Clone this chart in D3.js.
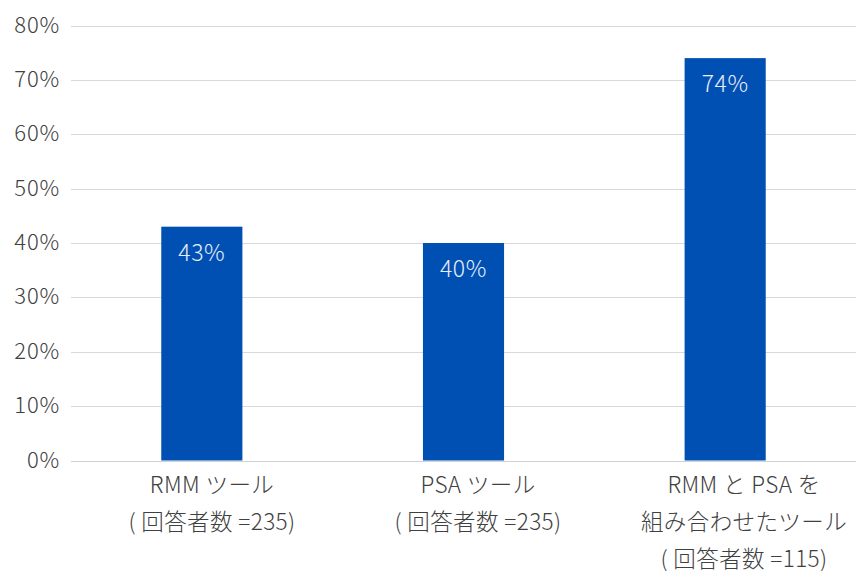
<!DOCTYPE html>
<html lang="ja">
<head>
<meta charset="utf-8">
<script src="https://cdn.jsdelivr.net/npm/d3@7"></script>
<style>
  html, body { margin: 0; padding: 0; background: #fff; }
  svg { display: block; }
  text { font-family: "Noto Sans CJK JP", "Noto Sans", sans-serif; font-weight: 300; }
</style>
</head>
<body>
<svg id="chart" width="856" height="571"></svg>
<script>
// Category labels (each entry is a list of lines)
const categories = [
  ["RMM ツール", "( 回答者数 =235)"],
  ["PSA ツール", "( 回答者数 =235)"],
  ["RMM と PSA を", "組み合わせたツール", "( 回答者数 =115)"]
];
// Share of respondents (%)
const values = [43, 40, 74];
// Y axis ticks (%)
const yTicks = [0, 10, 20, 30, 40, 50, 60, 70, 80];

const svg = d3.select("#chart");
const margin = { left: 71, right: 0, top: 25.5, bottom: 110.5 };
const W = 856, H = 571;

const x = d3.scaleBand()
  .domain(categories.map((d, i) => i))
  .range([margin.left, W - margin.right])
  .paddingInner(0.69)
  .paddingOuter(0.345);

// Category text slots sit slightly to the right of the bar slots
const xLabel = d3.scaleBand()
  .domain(categories.map((d, i) => i))
  .range([79, 877]);

const y = d3.scaleLinear()
  .domain([0, 80])
  .range([H - margin.bottom, margin.top]);

// Horizontal gridlines
svg.append("g")
  .selectAll("line")
  .data(yTicks)
  .join("line")
  .attr("x1", margin.left)
  .attr("x2", W - margin.right)
  .attr("y1", d => Math.round(y(d)) + 0.5)
  .attr("y2", d => Math.round(y(d)) + 0.5)
  .attr("stroke", d => d === 0 ? "#cfd0d8" : "#d9d9d9")
  .attr("stroke-width", 1);

// Y axis labels
const yAxis = d3.axisLeft(y)
  .tickValues(yTicks)
  .tickFormat(d => d + "%")
  .tickSize(0)
  .tickPadding(11);

svg.append("g")
  .attr("transform", `translate(${margin.left},0)`)
  .call(yAxis)
  .call(g => g.select(".domain").remove())
  .call(g => g.selectAll("text")
    .attr("font-size", 22)
    .attr("letter-spacing", 0.8)
    .attr("dy", "0.3em")
    .attr("fill", "#404040")
    .style("font-family", '"Noto Sans CJK JP", sans-serif')
    .style("font-weight", 300));

// Bars
svg.append("g")
  .selectAll("rect")
  .data(values)
  .join("rect")
  .attr("x", (d, i) => x(i))
  .attr("width", x.bandwidth())
  .attr("y", d => y(d))
  .attr("height", d => y(0) - y(d))
  .attr("fill", "#0050b4");

// Value labels inside the bars
svg.append("g")
  .selectAll("text")
  .data(values)
  .join("text")
  .attr("x", (d, i) => x(i) + x.bandwidth() / 2)
  .attr("y", d => y(d) + 34)
  .attr("text-anchor", "middle")
  .attr("font-size", 23)
  .attr("letter-spacing", 0.6)
  .attr("fill", "#e8eef8")
  .text(d => d + "%");

// Category labels under the axis
const xl = svg.append("g")
  .selectAll("text")
  .data(categories)
  .join("text")
  .attr("text-anchor", "middle")
  .attr("font-size", 22.5)
  .attr("letter-spacing", 0.4)
  .attr("fill", "#404040");

xl.selectAll("tspan")
  .data((d, i) => d.map(line => ({ line, i })))
  .join("tspan")
  .attr("x", d => xLabel(d.i) + xLabel.bandwidth() / 2)
  .attr("y", (d, j) => H - margin.bottom + 32 + j * 37)
  .text(d => d.line);
</script>
</body>
</html>
